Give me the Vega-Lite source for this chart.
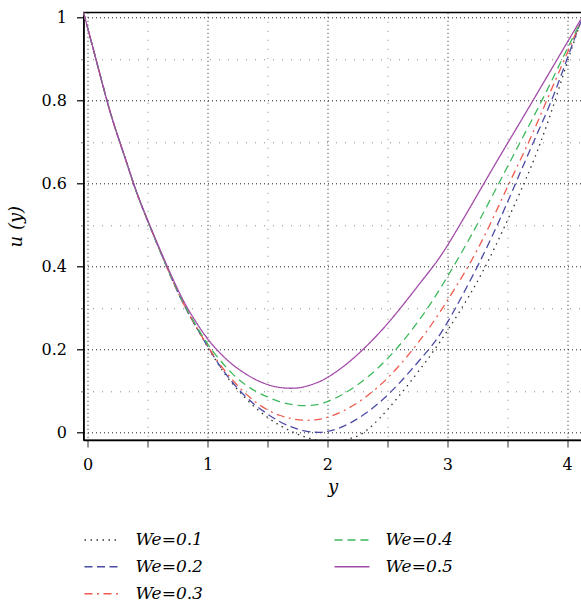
{
  "$schema": "https://vega.github.io/schema/vega-lite/v6.json",
  "autosize": {"type": "none"},
  "padding": {"left": 83.5, "top": 12.3, "right": 0, "bottom": 168},
  "width": 498,
  "height": 427.7,
  "background": "white",
  "config": {
    "view": {"stroke": "#000", "strokeWidth": 1.3},
    "font": "DejaVu Serif"
  },
  "data": {
    "values": [
      {"x": -0.035, "u": 1.012, "We": "We=0.1"}, {"x": 0.1, "u": 0.865, "We": "We=0.1"}, {"x": 0.2, "u": 0.76, "We": "We=0.1"}, {"x": 0.3, "u": 0.672, "We": "We=0.1"}, {"x": 0.4, "u": 0.585, "We": "We=0.1"}, {"x": 0.5, "u": 0.51, "We": "We=0.1"}, {"x": 0.6, "u": 0.44, "We": "We=0.1"}, {"x": 0.7, "u": 0.372, "We": "We=0.1"}, {"x": 0.8, "u": 0.31, "We": "We=0.1"}, {"x": 0.9, "u": 0.257, "We": "We=0.1"}, {"x": 1.0, "u": 0.207, "We": "We=0.1"}, {"x": 1.1, "u": 0.16, "We": "We=0.1"}, {"x": 1.2, "u": 0.121, "We": "We=0.1"}, {"x": 1.3, "u": 0.088, "We": "We=0.1"}, {"x": 1.4, "u": 0.06, "We": "We=0.1"}, {"x": 1.5, "u": 0.037, "We": "We=0.1"}, {"x": 1.6, "u": 0.018, "We": "We=0.1"}, {"x": 1.7, "u": 0.003, "We": "We=0.1"}, {"x": 1.8, "u": -0.009, "We": "We=0.1"}, {"x": 1.9, "u": -0.017, "We": "We=0.1"}, {"x": 2.0, "u": -0.021, "We": "We=0.1"}, {"x": 2.1, "u": -0.02, "We": "We=0.1"}, {"x": 2.2, "u": -0.013, "We": "We=0.1"}, {"x": 2.3, "u": 0.0, "We": "We=0.1"}, {"x": 2.5, "u": 0.055, "We": "We=0.1"}, {"x": 2.8, "u": 0.163, "We": "We=0.1"}, {"x": 3.0, "u": 0.245, "We": "We=0.1"}, {"x": 3.2, "u": 0.338, "We": "We=0.1"}, {"x": 3.4, "u": 0.448, "We": "We=0.1"}, {"x": 3.64, "u": 0.6, "We": "We=0.1"}, {"x": 3.78, "u": 0.7, "We": "We=0.1"}, {"x": 3.9, "u": 0.8, "We": "We=0.1"}, {"x": 4.01, "u": 0.9, "We": "We=0.1"}, {"x": 4.115, "u": 0.99, "We": "We=0.1"},

      {"x": -0.035, "u": 1.012, "We": "We=0.2"}, {"x": 0.1, "u": 0.865, "We": "We=0.2"}, {"x": 0.2, "u": 0.76, "We": "We=0.2"}, {"x": 0.3, "u": 0.672, "We": "We=0.2"}, {"x": 0.4, "u": 0.585, "We": "We=0.2"}, {"x": 0.5, "u": 0.51, "We": "We=0.2"}, {"x": 0.6, "u": 0.44, "We": "We=0.2"}, {"x": 0.7, "u": 0.372, "We": "We=0.2"}, {"x": 0.8, "u": 0.31, "We": "We=0.2"}, {"x": 0.9, "u": 0.257, "We": "We=0.2"}, {"x": 1.0, "u": 0.208, "We": "We=0.2"}, {"x": 1.1, "u": 0.162, "We": "We=0.2"}, {"x": 1.2, "u": 0.124, "We": "We=0.2"}, {"x": 1.3, "u": 0.092, "We": "We=0.2"}, {"x": 1.4, "u": 0.066, "We": "We=0.2"}, {"x": 1.5, "u": 0.045, "We": "We=0.2"}, {"x": 1.6, "u": 0.027, "We": "We=0.2"}, {"x": 1.7, "u": 0.014, "We": "We=0.2"}, {"x": 1.8, "u": 0.005, "We": "We=0.2"}, {"x": 1.9, "u": 0.001, "We": "We=0.2"}, {"x": 2.0, "u": 0.003, "We": "We=0.2"}, {"x": 2.2, "u": 0.025, "We": "We=0.2"}, {"x": 2.5, "u": 0.09, "We": "We=0.2"}, {"x": 2.8, "u": 0.185, "We": "We=0.2"}, {"x": 3.0, "u": 0.265, "We": "We=0.2"}, {"x": 3.32, "u": 0.44, "We": "We=0.2"}, {"x": 3.57, "u": 0.6, "We": "We=0.2"}, {"x": 3.72, "u": 0.7, "We": "We=0.2"}, {"x": 3.87, "u": 0.8, "We": "We=0.2"}, {"x": 4.0, "u": 0.9, "We": "We=0.2"}, {"x": 4.115, "u": 0.99, "We": "We=0.2"},

      {"x": -0.035, "u": 1.012, "We": "We=0.3"}, {"x": 0.1, "u": 0.865, "We": "We=0.3"}, {"x": 0.2, "u": 0.76, "We": "We=0.3"}, {"x": 0.3, "u": 0.672, "We": "We=0.3"}, {"x": 0.4, "u": 0.585, "We": "We=0.3"}, {"x": 0.5, "u": 0.51, "We": "We=0.3"}, {"x": 0.6, "u": 0.44, "We": "We=0.3"}, {"x": 0.7, "u": 0.372, "We": "We=0.3"}, {"x": 0.8, "u": 0.31, "We": "We=0.3"}, {"x": 0.9, "u": 0.258, "We": "We=0.3"}, {"x": 1.0, "u": 0.209, "We": "We=0.3"}, {"x": 1.1, "u": 0.166, "We": "We=0.3"}, {"x": 1.2, "u": 0.13, "We": "We=0.3"}, {"x": 1.3, "u": 0.099, "We": "We=0.3"}, {"x": 1.4, "u": 0.074, "We": "We=0.3"}, {"x": 1.5, "u": 0.055, "We": "We=0.3"}, {"x": 1.6, "u": 0.042, "We": "We=0.3"}, {"x": 1.7, "u": 0.034, "We": "We=0.3"}, {"x": 1.8, "u": 0.03, "We": "We=0.3"}, {"x": 1.9, "u": 0.031, "We": "We=0.3"}, {"x": 2.0, "u": 0.037, "We": "We=0.3"}, {"x": 2.2, "u": 0.063, "We": "We=0.3"}, {"x": 2.5, "u": 0.131, "We": "We=0.3"}, {"x": 2.8, "u": 0.233, "We": "We=0.3"}, {"x": 3.0, "u": 0.318, "We": "We=0.3"}, {"x": 3.25, "u": 0.44, "We": "We=0.3"}, {"x": 3.5, "u": 0.59, "We": "We=0.3"}, {"x": 3.68, "u": 0.7, "We": "We=0.3"}, {"x": 3.83, "u": 0.8, "We": "We=0.3"}, {"x": 3.98, "u": 0.9, "We": "We=0.3"}, {"x": 4.115, "u": 0.99, "We": "We=0.3"},

      {"x": -0.035, "u": 1.012, "We": "We=0.4"}, {"x": 0.1, "u": 0.865, "We": "We=0.4"}, {"x": 0.2, "u": 0.76, "We": "We=0.4"}, {"x": 0.3, "u": 0.672, "We": "We=0.4"}, {"x": 0.4, "u": 0.585, "We": "We=0.4"}, {"x": 0.5, "u": 0.51, "We": "We=0.4"}, {"x": 0.6, "u": 0.44, "We": "We=0.4"}, {"x": 0.7, "u": 0.373, "We": "We=0.4"}, {"x": 0.8, "u": 0.312, "We": "We=0.4"}, {"x": 0.9, "u": 0.26, "We": "We=0.4"}, {"x": 1.0, "u": 0.214, "We": "We=0.4"}, {"x": 1.1, "u": 0.176, "We": "We=0.4"}, {"x": 1.2, "u": 0.144, "We": "We=0.4"}, {"x": 1.3, "u": 0.119, "We": "We=0.4"}, {"x": 1.4, "u": 0.1, "We": "We=0.4"}, {"x": 1.5, "u": 0.086, "We": "We=0.4"}, {"x": 1.6, "u": 0.075, "We": "We=0.4"}, {"x": 1.7, "u": 0.068, "We": "We=0.4"}, {"x": 1.8, "u": 0.065, "We": "We=0.4"}, {"x": 1.9, "u": 0.067, "We": "We=0.4"}, {"x": 2.0, "u": 0.075, "We": "We=0.4"}, {"x": 2.2, "u": 0.105, "We": "We=0.4"}, {"x": 2.5, "u": 0.178, "We": "We=0.4"}, {"x": 2.8, "u": 0.285, "We": "We=0.4"}, {"x": 3.0, "u": 0.375, "We": "We=0.4"}, {"x": 3.2, "u": 0.475, "We": "We=0.4"}, {"x": 3.43, "u": 0.6, "We": "We=0.4"}, {"x": 3.61, "u": 0.7, "We": "We=0.4"}, {"x": 3.79, "u": 0.8, "We": "We=0.4"}, {"x": 3.96, "u": 0.9, "We": "We=0.4"}, {"x": 4.115, "u": 0.99, "We": "We=0.4"},

      {"x": -0.035, "u": 1.012, "We": "We=0.5"}, {"x": 0.1, "u": 0.865, "We": "We=0.5"}, {"x": 0.2, "u": 0.76, "We": "We=0.5"}, {"x": 0.3, "u": 0.672, "We": "We=0.5"}, {"x": 0.4, "u": 0.586, "We": "We=0.5"}, {"x": 0.5, "u": 0.512, "We": "We=0.5"}, {"x": 0.6, "u": 0.443, "We": "We=0.5"}, {"x": 0.7, "u": 0.377, "We": "We=0.5"}, {"x": 0.8, "u": 0.317, "We": "We=0.5"}, {"x": 0.9, "u": 0.268, "We": "We=0.5"}, {"x": 1.0, "u": 0.226, "We": "We=0.5"}, {"x": 1.1, "u": 0.193, "We": "We=0.5"}, {"x": 1.2, "u": 0.166, "We": "We=0.5"}, {"x": 1.3, "u": 0.145, "We": "We=0.5"}, {"x": 1.4, "u": 0.128, "We": "We=0.5"}, {"x": 1.5, "u": 0.116, "We": "We=0.5"}, {"x": 1.6, "u": 0.109, "We": "We=0.5"}, {"x": 1.7, "u": 0.107, "We": "We=0.5"}, {"x": 1.8, "u": 0.11, "We": "We=0.5"}, {"x": 1.9, "u": 0.119, "We": "We=0.5"}, {"x": 2.0, "u": 0.133, "We": "We=0.5"}, {"x": 2.2, "u": 0.175, "We": "We=0.5"}, {"x": 2.5, "u": 0.262, "We": "We=0.5"}, {"x": 2.8, "u": 0.37, "We": "We=0.5"}, {"x": 3.0, "u": 0.45, "We": "We=0.5"}, {"x": 3.3, "u": 0.597, "We": "We=0.5"}, {"x": 3.51, "u": 0.7, "We": "We=0.5"}, {"x": 3.72, "u": 0.802, "We": "We=0.5"}, {"x": 3.92, "u": 0.9, "We": "We=0.5"}, {"x": 4.115, "u": 0.995, "We": "We=0.5"}
    ]
  },
  "mark": {"type": "line", "clip": true, "strokeWidth": 1.3, "interpolate": "natural"},
  "encoding": {
    "x": {
      "field": "x", "type": "quantitative",
      "scale": {"domain": [-0.035, 4.12], "nice": false, "zero": false},
      "axis": {
        "values": [0, 0.5, 1, 1.5, 2, 2.5, 3, 3.5, 4],
        "labelExpr": "datum.value % 1 === 0 ? format(datum.value, '~g') : ''",
        "title": "y",
        "titleFontStyle": "italic",
        "titleFontWeight": "normal",
        "titleFontSize": 18,
        "titleFont": "DejaVu Serif",
        "titleColor": "#000",
        "titlePadding": 6,
        "labelFont": "DejaVu Serif",
        "labelFontSize": 16,
        "labelColor": "#000",
        "labelPadding": 9,
        "labelFlush": false,
        "labelOverlap": false,
        "domainColor": "#000",
        "domainWidth": 1.5,
        "tickColor": "#555",
        "tickSize": 7,
        "tickWidth": 1.2,
        "grid": true,
        "gridColor": {"condition": {"test": "datum.value % 1 === 0", "value": "#222"}, "value": "#888"},
        "gridDash": {"condition": {"test": "datum.value % 1 === 0", "value": [1, 3]}, "value": [1, 8]},
        "gridWidth": 1
      }
    },
    "y": {
      "field": "u", "type": "quantitative",
      "scale": {"domain": [-0.0176, 1.012], "nice": false, "zero": false},
      "axis": {
        "values": [0, 0.1, 0.2, 0.3, 0.4, 0.5, 0.6, 0.7, 0.8, 0.9, 1],
        "labelExpr": "round(datum.value * 10) % 2 === 0 ? format(datum.value, '~g') : ''",
        "title": "u (y)",
        "titleFontStyle": "italic",
        "titleFontWeight": "normal",
        "titleFontSize": 18,
        "titleFont": "DejaVu Serif",
        "titleColor": "#000",
        "titlePadding": 16,
        "labelFont": "DejaVu Serif",
        "labelFontSize": 16,
        "labelColor": "#000",
        "labelPadding": 10,
        "labelFlush": false,
        "labelOverlap": false,
        "domainColor": "#000",
        "domainWidth": 1.5,
        "tickColor": {"condition": {"test": "round(datum.value * 10) % 2 === 0", "value": "#000"}, "value": "#999"},
        "tickSize": {"condition": {"test": "round(datum.value * 10) % 2 === 0", "value": 7}, "value": 3},
        "tickWidth": 1.2,
        "grid": true,
        "gridColor": {"condition": {"test": "round(datum.value * 10) % 2 === 0", "value": "#222"}, "value": "#888"},
        "gridDash": {"condition": {"test": "round(datum.value * 10) % 2 === 0", "value": [1, 3]}, "value": [1, 8]},
        "gridWidth": 1
      }
    },
    "color": {
      "field": "We", "type": "nominal",
      "scale": {
        "domain": ["We=0.1", "We=0.2", "We=0.3", "We=0.4", "We=0.5"],
        "range": ["#333333", "#4B4BA6", "#EF5A4C", "#3DB85C", "#A24CA8"]
      },
      "legend": {
        "title": null,
        "orient": "none",
        "legendX": 0,
        "legendY": 509,
        "columns": 2,
        "columnPadding": 127,
        "rowPadding": -7.5,
        "symbolType": "stroke",
        "symbolSize": 1225,
        "symbolStrokeWidth": 1.6,
        "labelFont": "DejaVu Serif",
        "labelFontStyle": "italic",
        "labelFontSize": 17,
        "labelColor": "#000",
        "labelOffset": 15,
        "labelLimit": 200
      }
    },
    "strokeDash": {
      "field": "We", "type": "nominal",
      "scale": {
        "domain": ["We=0.1", "We=0.2", "We=0.3", "We=0.4", "We=0.5"],
        "range": [[1.5, 4.5], [8, 4.5], [8, 4.5, 2, 4.5], [8, 5], [1, 0]]
      }
    }
  }
}
